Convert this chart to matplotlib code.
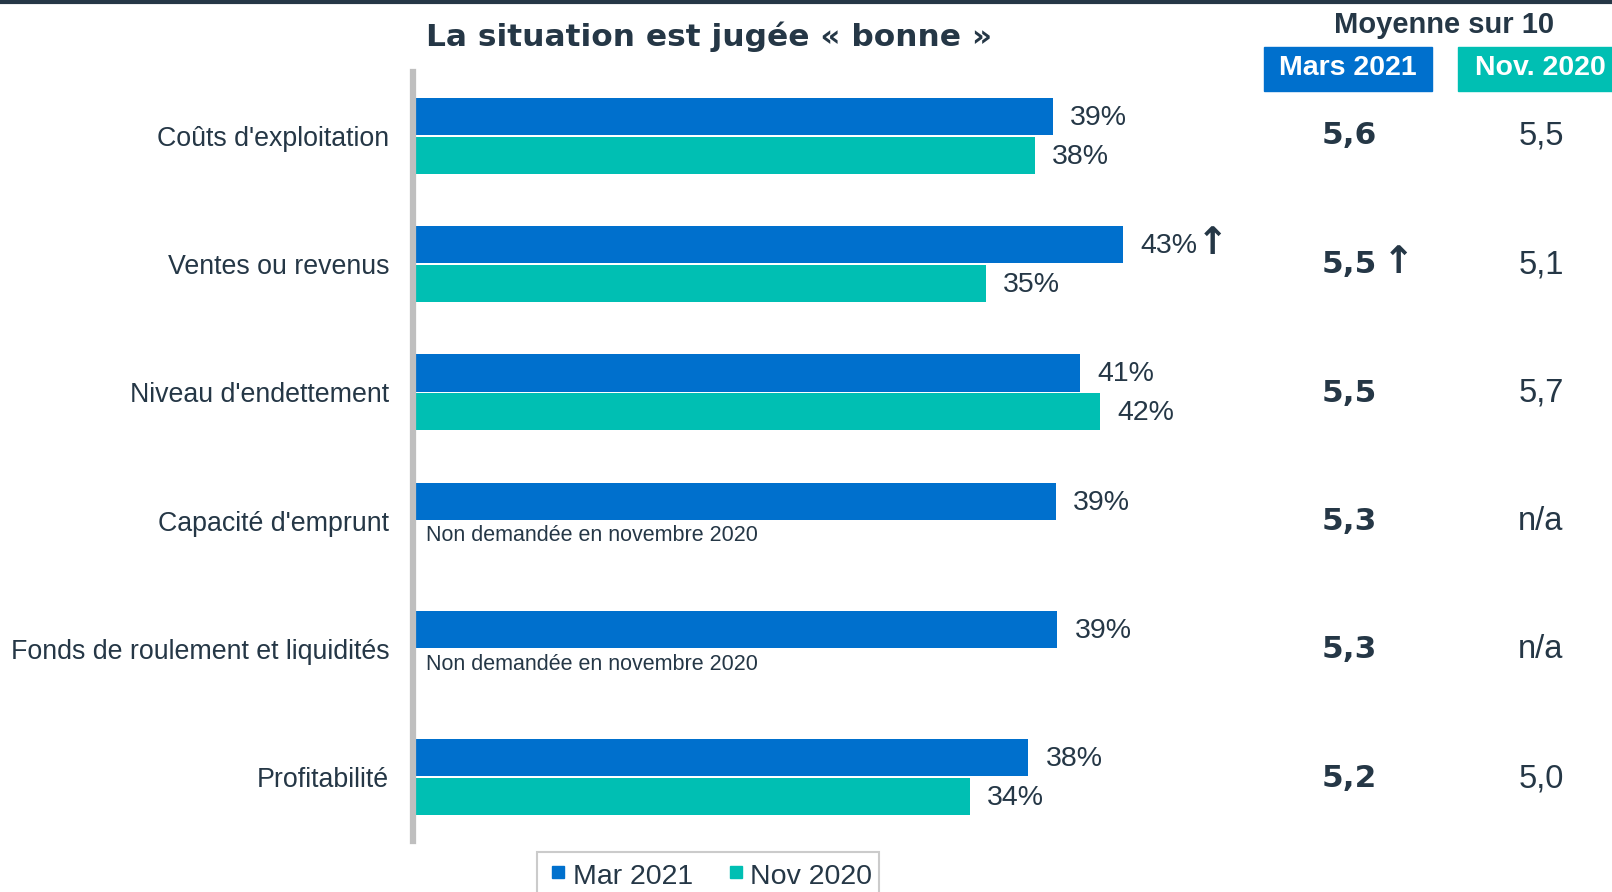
import matplotlib
matplotlib.use('Agg')
import matplotlib.pyplot as plt
from matplotlib.patches import Rectangle
from matplotlib.lines import Line2D

plt.rcParams['font.family'] = ['Liberation Sans', 'DejaVu Sans']

# data
categories = ["Coûts d'exploitation", "Ventes ou revenus", "Niveau d'endettement",
              "Capacité d'emprunt", "Fonds de roulement et liquidités", "Profitabilité"]
mar2021 = [39.1, 43.4, 40.8, 39.3, 39.4, 37.6]
nov2020 = [38.0, 35.0, 42.0, None, None, 34.0]
up_flags = [False, True, False, False, False, False]
moy_mar = ["5,6", "5,5", "5,5", "5,3", "5,3", "5,2"]
moy_nov = ["5,5", "5,1", "5,7", "n/a", "n/a", "5,0"]

BLUE = '#0070CD'
TEAL = '#00BFB3'
NAVY = '#253746'
W, H = 1612, 892


def fx(x):
    return x / W


def fy(y):
    return 1 - y / H


fig = plt.figure(figsize=(W / 100, H / 100), dpi=100)
ax = fig.add_axes([fx(416), fy(841), fx(1230 - 416), (841 - 72) / H])

# spine first: set_position resets the ticks
for s in ['top', 'right', 'bottom']:
    ax.spines[s].set_visible(False)
ax.spines['left'].set_position(('outward', 2.2))
ax.spines['left'].set_color('#BFBFBF')
ax.spines['left'].set_linewidth(4.5)

bh = 0.29
gap = 0.012
ys = list(range(len(categories)))
for i, cat in enumerate(categories):
    y_m = i - bh / 2 - gap / 2
    y_n = i + bh / 2 + gap / 2
    ax.barh(y_m, mar2021[i], height=bh, color=BLUE)
    t = ax.annotate(f"{round(mar2021[i])}%", (mar2021[i], y_m), xytext=(12.5, -1),
                    textcoords='offset points', va='center', ha='left',
                    fontsize=20.5, color=NAVY)
    if up_flags[i]:
        ax.annotate('↑', xy=(1, 0.5), xycoords=t, xytext=(0, 2), textcoords='offset points',
                    va='center', ha='left', fontsize=27, fontweight='bold', color=NAVY,
                    family=['DejaVu Sans'])
    if nov2020[i] is not None:
        ax.barh(y_n, nov2020[i], height=bh, color=TEAL)
        ax.annotate(f"{round(nov2020[i])}%", (nov2020[i], y_n), xytext=(12.5, -1),
                    textcoords='offset points', va='center', ha='left',
                    fontsize=20.5, color=NAVY)
    else:
        ax.text(0.6, i + 0.12, "Non demandée en novembre 2020", va='center', ha='left',
                fontsize=15.5, color=NAVY)
    # averages on the right
    ym = fy(136 + i * 128.5)
    fig.text(fx(1349), ym, moy_mar[i], ha='center', va='center',
             fontsize=22.5, fontweight='bold', color=NAVY, family=['DejaVu Sans'])
    fig.text(fx(1541), ym, moy_nov[i], ha='center', va='center',
             fontsize=23.5, color=NAVY)
    if up_flags[i]:
        fig.text(fx(1398), ym + 0.002, '↑', ha='center', va='center',
                 fontsize=27, fontweight='bold', color=NAVY, family=['DejaVu Sans'])

ax.set_xlim(0, 50)
ax.set_ylim(5.5, -0.5)
ax.set_yticks(ys)
ax.set_yticklabels(categories, fontsize=19.3, color=NAVY)
ax.tick_params(axis='y', length=0, pad=17)
ax.set_xticks([])

# title
fig.text(fx(709), fy(37), "La situation est jugée « bonne »", ha='center', va='center',
         fontsize=22.5, fontweight='bold', color=NAVY, family=['DejaVu Sans'])

# header on the right
fig.text(fx(1444), fy(25), "Moyenne sur 10", ha='center', va='center',
         fontsize=21, fontweight='bold', color=NAVY)
fig.patches.append(Rectangle((fx(1264), fy(91)), fx(1432 - 1264), (91 - 47) / H,
                             transform=fig.transFigure, color=BLUE))
fig.patches.append(Rectangle((fx(1458), fy(91)), fx(1612 - 1458), (91 - 47) / H,
                             transform=fig.transFigure, color=TEAL))
fig.text(fx(1348), fy(68), "Mars 2021", ha='center', va='center',
         fontsize=20.5, fontweight='bold', color='white')
fig.text(fx(1540), fy(68), "Nov. 2020", ha='center', va='center',
         fontsize=20.5, fontweight='bold', color='white')

# top rule
fig.add_artist(Line2D([0, 1], [fy(1.5), fy(1.5)], transform=fig.transFigure,
                      color=NAVY, linewidth=3))

# legend
handles = [Line2D([], [], marker='s', linestyle='', color=BLUE, markersize=9),
           Line2D([], [], marker='s', linestyle='', color=TEAL, markersize=9)]
leg = fig.legend(handles, ['Mar 2021', 'Nov 2020'], loc='upper center',
                 bbox_to_anchor=(fx(708), fy(852)), ncol=2, frameon=True,
                 fancybox=False, fontsize=20.5, handletextpad=0.0, columnspacing=1.0,
                 borderpad=0.25, borderaxespad=0, handlelength=1.0, handleheight=1.3,
                 labelcolor=NAVY)
leg.get_frame().set_edgecolor('#BFBFBF')
leg.get_frame().set_linewidth(1.5)

fig.savefig('out.png', dpi=100)
